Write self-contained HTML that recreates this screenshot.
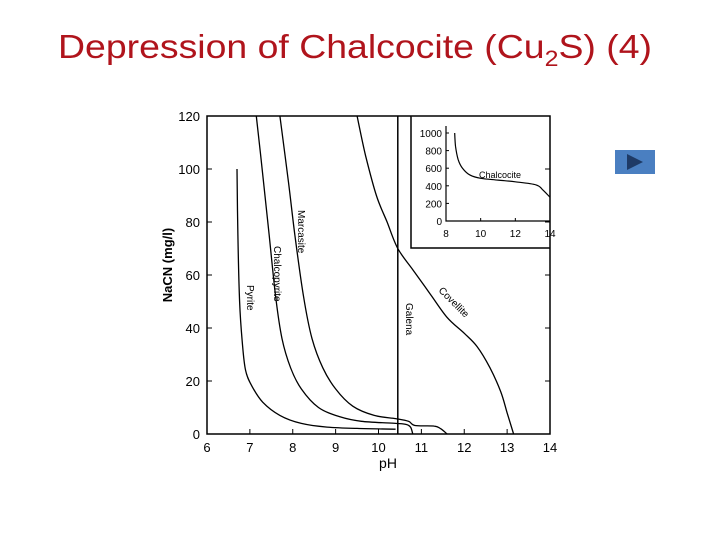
<!DOCTYPE html>
<html><head><meta charset="utf-8"><style>
body{margin:0;background:#fff;width:720px;height:540px;overflow:hidden}
svg{display:block}
text{font-family:"Liberation Sans",sans-serif}
</style></head><body>
<svg width="720" height="540" viewBox="0 0 720 540">
<text x="58" y="58" font-size="33" fill="#b0141c" textLength="594" lengthAdjust="spacingAndGlyphs">Depression of Chalcocite (Cu<tspan font-size="22" dy="8">2</tspan><tspan dy="-8">S) (4)</tspan></text>
<g>
<rect x="615" y="150" width="40" height="24" fill="#4a7fc1"/>
<polygon points="627,154 627,170 643,162" fill="#1e3a66"/>
</g>
<g id="chart"></g>
</svg>
<script>
const xTicks=[6,7,8,9,10,11,12,13,14];
const xTickLabels=["6","7","8","9","10","11","12","13","14"];
const yTicks=[0,20,40,60,80,100,120];
const pyrite=[[6.7,100],[6.72,75],[6.76,50],[6.82,35],[6.9,24],[7.05,18],[7.3,12],[7.7,7],[8.2,4],[8.8,2.6],[9.5,2.1],[10.4,1.8]];
const chalcopyrite=[[7.15,120],[7.3,98],[7.45,75],[7.6,52],[7.75,36],[7.95,25],[8.2,17],[8.6,10],[9.1,6.5],[9.6,4.8],[10.4,4],[10.65,3.6],[10.75,2.5],[10.8,0]];
const marcasite=[[7.7,120],[7.9,95],[8.05,75],[8.25,52],[8.45,36],[8.7,25],[9.0,17],[9.4,10.5],[9.9,7],[10.4,5.8],[10.7,4.8],[10.85,3.2],[11.3,3],[11.45,2],[11.6,0]];
const covellite=[[9.5,120],[9.7,105],[9.95,90],[10.2,80],[10.45,70],[10.8,62],[11.2,53],[11.6,44],[12.0,38],[12.3,33],[12.6,25],[12.85,16],[13.0,8],[13.15,0]];
const galenaPH=10.45;
const insetX=[8,10,12,14];
const insetY=[0,200,400,600,800,1000];
const chalcocite=[[8.5,1000],[8.55,850],[8.7,700],[8.95,600],[9.4,520],[10,485],[11,465],[12,445],[13.2,410],[13.6,350],[14,270]];
const ns="http://www.w3.org/2000/svg";
const g=document.getElementById('chart');
function mk(t,a,p){const e=document.createElementNS(ns,t);for(const k in a)e.setAttribute(k,a[k]);(p||g).appendChild(e);return e;}
const X=v=>207+(v-6)*(550-207)/8, Y=v=>434-v*(434-116)/120;
const IX=v=>446+(v-8)*(550-446)/6, IY=v=>221-v*(221-133)/1000;
let e=mk('path',{d:`M${X(6)},${Y(120)}H${X(14)}V${Y(0)}H${X(6)}Z`,fill:'none',stroke:'#000','stroke-width':1.5});

xTicks.forEach((t,i)=>{
 let l=mk('line',{x1:X(t),x2:X(t),y1:Y(0),y2:Y(0)-5,stroke:'#000'});
 
 let tx=mk('text',{x:X(t),y:452,'font-size':13,'text-anchor':'middle'});tx.textContent=xTickLabels[i];
 
});
yTicks.forEach(t=>{
 let l=mk('line',{x1:X(6),x2:X(6)+5,y1:Y(t),y2:Y(t),stroke:'#000'});
 
 let r=mk('line',{x1:X(14),x2:X(14)-5,y1:Y(t),y2:Y(t),stroke:'#000'});
 
 let tx=mk('text',{x:200,y:Y(t)+5,'font-size':13,'text-anchor':'end'});tx.textContent=t;
 
});
let xt=mk('text',{x:388,y:468,'font-size':14,'text-anchor':'middle'});xt.textContent='pH';

let yt=mk('text',{x:172,y:265,'font-size':13,'text-anchor':'middle',transform:'rotate(-90 172 265)','font-weight':'bold'});yt.textContent='NaCN (mg/l)';

function smooth(pts){let d='M'+pts[0][0].toFixed(1)+','+pts[0][1].toFixed(1);
 for(let i=0;i<pts.length-1;i++){const p0=pts[i-1]||pts[i],p1=pts[i],p2=pts[i+1],p3=pts[i+2]||p2;
  const c1=[p1[0]+(p2[0]-p0[0])/6,p1[1]+(p2[1]-p0[1])/6],c2=[p2[0]-(p3[0]-p1[0])/6,p2[1]-(p3[1]-p1[1])/6];
  d+=`C${c1[0].toFixed(1)},${c1[1].toFixed(1)} ${c2[0].toFixed(1)},${c2[1].toFixed(1)} ${p2[0].toFixed(1)},${p2[1].toFixed(1)}`;}
 return d;}
function line(d,fx,fy,name,w){let p=mk('path',{d:smooth(d.map(q=>[fx(q[0]),fy(q[1])])),fill:'none',stroke:'#000','stroke-width':w||1.3,'stroke-linejoin':'round'});
 }
line(pyrite,X,Y,'pyrite-curve');line(chalcopyrite,X,Y,'chalcopyrite-curve');line(marcasite,X,Y,'marcasite-curve');line(covellite,X,Y,'covellite-curve');
let gl=mk('line',{x1:X(galenaPH),x2:X(galenaPH),y1:Y(0),y2:Y(120),stroke:'#000','stroke-width':1.5});

function lab(txt,x,y,rot,name){let t=mk('text',{x:x,y:y,'font-size':10,transform:`rotate(${rot} ${x} ${y})`});t.textContent=txt;
 }
lab('Pyrite',247,285,90,'pyrite-label');lab('Chalcopyrite',274,246,90,'chalcopyrite-label');lab('Marcasite',298,210,90,'marcasite-label');
lab('Galena',406,303,90,'galena-label');lab('Covellite',438,291,45,'covellite-label');
// inset
let ib=mk('path',{d:'M411,116V248H550',fill:'#fff',stroke:'#000','stroke-width':1.5});

let ia=mk('path',{d:`M${IX(8)},${IY(1080)}V${IY(0)}H${IX(14)}`,fill:'none',stroke:'#000','stroke-width':1.2});

insetX.forEach(t=>{let tx=mk('text',{x:IX(t),y:237,'font-size':10,'text-anchor':'middle'});tx.textContent=t;
 
 let l=mk('line',{x1:IX(t),x2:IX(t),y1:IY(0),y2:IY(0)-3,stroke:'#000'});});
insetY.forEach(t=>{let tx=mk('text',{x:442,y:IY(t)+4,'font-size':10,'text-anchor':'end'});tx.textContent=t;
 
 let l=mk('line',{x1:IX(8),x2:IX(8)+3,y1:IY(t),y2:IY(t),stroke:'#000'});});
line(chalcocite,IX,IY,'chalcocite-curve',1.2);
let cl=mk('text',{x:479,y:178,'font-size':9});cl.textContent='Chalcocite';

</script>
</body></html>
